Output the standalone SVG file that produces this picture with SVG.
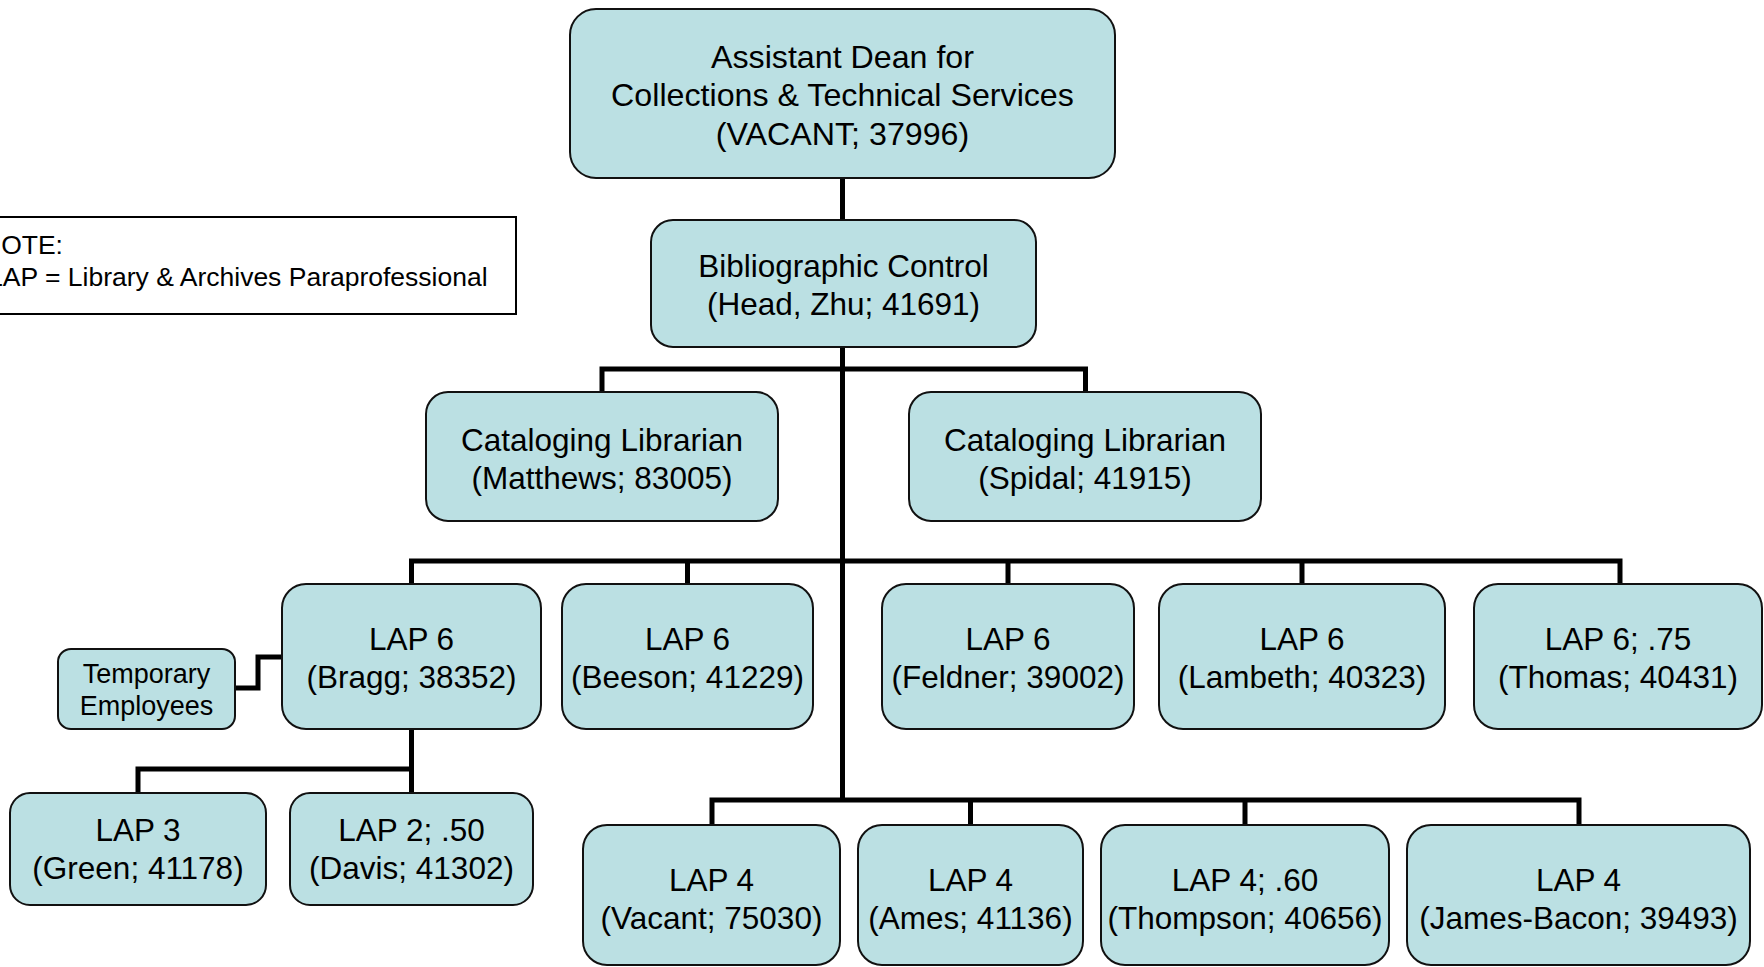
<svg xmlns="http://www.w3.org/2000/svg" width="1764" height="967" viewBox="0 0 1764 967">
<style>
.box{fill:#BBE0E3;stroke:#111;stroke-width:2}
.t{font-family:"Liberation Sans",Arial,sans-serif;font-size:31.5px;fill:#000;text-anchor:middle}
.tl{font-size:32.2px}
.s{font-family:"Liberation Sans",Arial,sans-serif;font-size:27px;fill:#000;text-anchor:middle}
.n{font-family:"Liberation Sans",Arial,sans-serif;font-size:26.5px;fill:#000}
.c{fill:none;stroke:#000;stroke-width:5;stroke-linejoin:miter;stroke-linecap:butt}
</style>
<rect width="1764" height="967" fill="#fff"/>
<g id="connectors">
<path class="c" d="M842.5 178 V220"/>
<path class="c" d="M842.5 347 V800"/>
<path class="c" d="M602 392 V369 H1085.5 V392"/>
<path class="c" d="M411.5 584 V561 H1620 V584"/>
<path class="c" d="M687.5 561 V584 M1008 561 V584 M1302 561 V584"/>
<path class="c" d="M712 825 V800 H1579 V825"/>
<path class="c" d="M970.5 800 V825 M1245 800 V825"/>
<path class="c" d="M411.5 729 V769 H138 V793 M411.5 769 V793"/>
<path class="c" d="M235 688 H258 V657 H282"/>
</g>
<g id="note">
<rect x="-10" y="217" width="526" height="97" fill="#fff" stroke="#000" stroke-width="2"/>
<text class="n" x="-18" y="254">NOTE:</text>
<text class="n" x="-12" y="286">LAP = Library &amp; Archives Paraprofessional</text>
</g>
<g id="dean">
<rect class="box" x="570" y="9" width="545" height="169" rx="26"/>
<text class="t tl" x="842.5" y="68">Assistant Dean for</text>
<text class="t tl" x="842.5" y="106">Collections &amp; Technical Services</text>
<text class="t tl" x="842.5" y="145">(VACANT; 37996)</text>
</g>
<g id="biblio">
<rect class="box" x="651" y="220" width="385" height="127" rx="22"/>
<text class="t" x="843.5" y="277">Bibliographic Control</text>
<text class="t" x="843.5" y="315">(Head, Zhu; 41691)</text>
</g>
<g id="cat-matthews">
<rect class="box" x="426" y="392" width="352" height="129" rx="22"/>
<text class="t" x="602" y="451">Cataloging Librarian</text>
<text class="t" x="602" y="489">(Matthews; 83005)</text>
</g>
<g id="cat-spidal">
<rect class="box" x="909" y="392" width="352" height="129" rx="22"/>
<text class="t" x="1085" y="451">Cataloging Librarian</text>
<text class="t" x="1085" y="489">(Spidal; 41915)</text>
</g>
<g id="lap6-bragg">
<rect class="box" x="282" y="584" width="259" height="145" rx="24"/>
<text class="t" x="411.5" y="650">LAP 6</text>
<text class="t" x="411.5" y="688">(Bragg; 38352)</text>
</g>
<g id="temp">
<rect class="box" x="58" y="649" width="177" height="80" rx="13"/>
<text class="s" x="146.5" y="683">Temporary</text>
<text class="s" x="146.5" y="715">Employees</text>
</g>
<g id="lap6-beeson">
<rect class="box" x="562" y="584" width="251" height="145" rx="24"/>
<text class="t" x="687.5" y="650">LAP 6</text>
<text class="t" x="687.5" y="688">(Beeson; 41229)</text>
</g>
<g id="lap6-feldner">
<rect class="box" x="882" y="584" width="252" height="145" rx="24"/>
<text class="t" x="1008" y="650">LAP 6</text>
<text class="t" x="1008" y="688">(Feldner; 39002)</text>
</g>
<g id="lap6-lambeth">
<rect class="box" x="1159" y="584" width="286" height="145" rx="24"/>
<text class="t" x="1302" y="650">LAP 6</text>
<text class="t" x="1302" y="688">(Lambeth; 40323)</text>
</g>
<g id="lap6-thomas">
<rect class="box" x="1474" y="584" width="288" height="145" rx="24"/>
<text class="t" x="1618" y="650">LAP 6; .75</text>
<text class="t" x="1618" y="688">(Thomas; 40431)</text>
</g>
<g id="lap3-green">
<rect class="box" x="10" y="793" width="256" height="112" rx="20"/>
<text class="t" x="138" y="841">LAP 3</text>
<text class="t" x="138" y="879">(Green; 41178)</text>
</g>
<g id="lap2-davis">
<rect class="box" x="290" y="793" width="243" height="112" rx="20"/>
<text class="t" x="411.5" y="841">LAP 2; .50</text>
<text class="t" x="411.5" y="879">(Davis; 41302)</text>
</g>
<g id="lap4-vacant">
<rect class="box" x="583" y="825" width="257" height="140" rx="24"/>
<text class="t" x="711.5" y="891">LAP 4</text>
<text class="t" x="711.5" y="929">(Vacant; 75030)</text>
</g>
<g id="lap4-ames">
<rect class="box" x="858" y="825" width="225" height="140" rx="24"/>
<text class="t" x="970.5" y="891">LAP 4</text>
<text class="t" x="970.5" y="929">(Ames; 41136)</text>
</g>
<g id="lap4-thompson">
<rect class="box" x="1101" y="825" width="288" height="140" rx="24"/>
<text class="t" x="1245" y="891">LAP 4; .60</text>
<text class="t" x="1245" y="929">(Thompson; 40656)</text>
</g>
<g id="lap4-jamesbacon">
<rect class="box" x="1407" y="825" width="343" height="140" rx="24"/>
<text class="t" x="1578.5" y="891">LAP 4</text>
<text class="t" x="1578.5" y="929">(James-Bacon; 39493)</text>
</g>
</svg>
